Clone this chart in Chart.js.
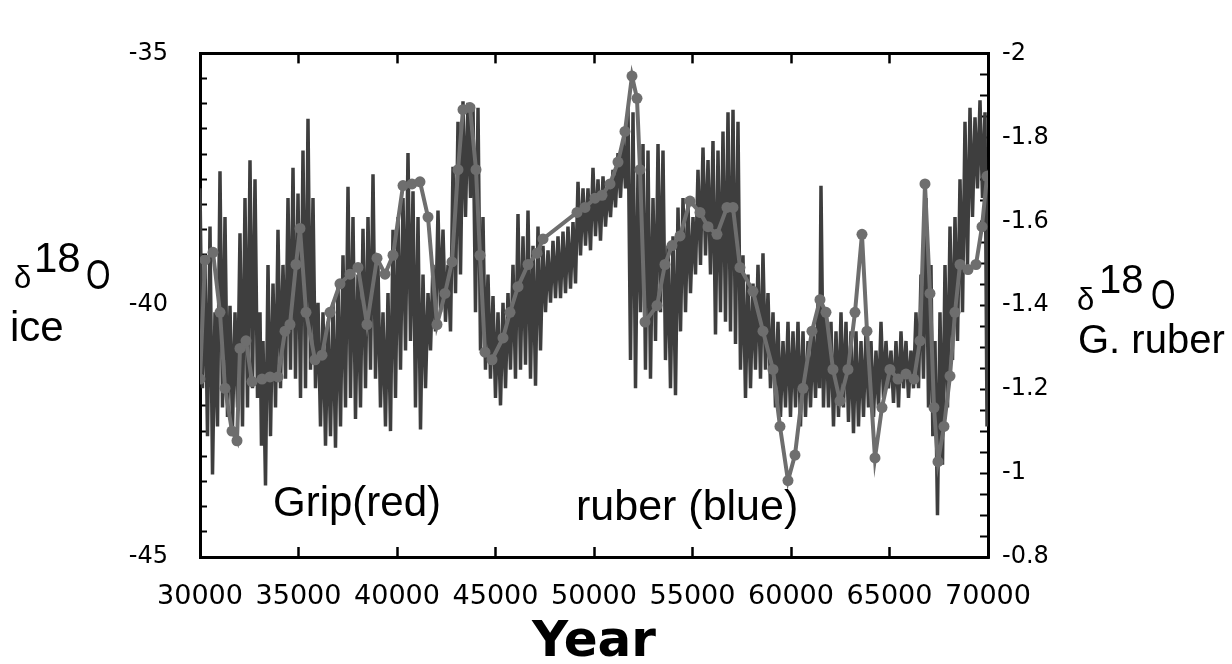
<!DOCTYPE html>
<html>
<head>
<meta charset="utf-8">
<title>Grip vs G. ruber d18O</title>
<script src="https://cdn.jsdelivr.net/npm/chart.js@4.4.1/dist/chart.umd.min.js"></script>
<style>
  html, body { margin: 0; padding: 0; background: #fff; }
  #wrap { position: relative; width: 1232px; height: 664px; overflow: hidden; }
  #myChart { position: absolute; left: 0; top: 0; }
  .lbl { position: absolute; font-family: "Liberation Sans", Arial, sans-serif; color: #000; line-height: 1; white-space: nowrap; }
  .narrow { display: inline-block; transform: scaleX(0.75); transform-origin: left top; }
</style>
</head>
<body>
<div id="wrap">
  <canvas id="myChart" width="1232" height="664"></canvas>

  <!-- left axis name: d18O ice -->
  <span class="lbl" style="left:14px;top:262px;font-size:31px">δ</span>
  <span class="lbl" style="left:34px;top:237px;font-size:42px">18</span>
  <span class="lbl narrow" style="left:86px;top:254px;font-size:42px">O</span>
  <span class="lbl" style="left:10px;top:306px;font-size:42px">ice</span>

  <!-- right axis name: d18O G. ruber -->
  <span class="lbl" style="left:1077px;top:284px;font-size:31px">δ</span>
  <span class="lbl" style="left:1099px;top:259px;font-size:40px">18</span>
  <span class="lbl narrow" style="left:1151px;top:274px;font-size:42px">O</span>
  <span class="lbl" style="left:1078px;top:319px;font-size:40px">G. ruber</span>

  <!-- in-plot notes -->
  <span class="lbl" style="left:273px;top:481px;font-size:42px">Grip(red)</span>
  <span class="lbl" style="left:576px;top:484px;font-size:43px">ruber (blue)</span>
</div>

<script>
// x axis
const yearMin = 30000;
const yearMax = 70000;
const yearStep = 5000;

// GRIP ice core d18O (left axis, permil)
const gripYear = [
  30000,30127,30254,30381,30508,30635,30761,30888,31015,31142,
  31269,31396,31523,31650,31777,31904,32030,32157,32284,32411,
  32538,32665,32792,32919,33046,33120,33198,33325,33452,33579,
  33706,33833,33959,34086,34213,34340,34467,34594,34721,34848,
  34975,35102,35228,35355,35482,35609,35736,35863,35990,36117,
  36244,36371,36497,36624,36751,36878,37005,37132,37259,37386,
  37513,37640,37766,37893,38020,38147,38274,38401,38528,38655,
  38782,38909,39035,39162,39289,39416,39543,39670,39797,39924,
  40051,40178,40305,40432,40558,40685,40812,40939,41066,41193,
  41320,41447,41574,41701,41827,41954,42081,42208,42335,42462,
  42589,42716,42843,42970,43096,43223,43350,43477,43604,43731,
  43858,43985,44112,44239,44365,44492,44619,44746,44873,45000,
  45127,45254,45381,45508,45634,45761,45888,46015,46142,46269,
  46396,46523,46650,46777,46904,47031,47157,47284,47411,47538,
  47665,47792,47919,48046,48173,48300,48426,48553,48680,48807,
  48934,49061,49188,49315,49442,49569,49695,49822,49949,50076,
  50203,50330,50457,50584,50711,50838,50964,51091,51218,51345,
  51472,51599,51726,51853,51980,52107,52233,52360,52487,52614,
  52741,52868,52995,53122,53249,53376,53502,53629,53756,53883,
  54010,54137,54264,54391,54518,54645,54771,54898,55025,55152,
  55279,55406,55533,55660,55787,55914,56040,56167,56294,56421,
  56548,56675,56802,56929,57056,57183,57309,57436,57563,57690,
  57817,57944,58071,58198,58325,58452,58578,58705,58832,58959,
  59086,59213,59340,59467,59594,59721,59847,59974,60101,60228,
  60355,60482,60609,60736,60863,60990,61117,61244,61370,61450,
  61522,61649,61776,61903,62030,62157,62284,62411,62538,62665,
  62791,62918,63045,63172,63299,63426,63553,63680,63807,63934,
  64061,64188,64314,64441,64568,64695,64822,64949,65076,65203,
  65330,65457,65583,65710,65837,65964,66091,66218,66345,66472,
  66599,66726,66853,66980,67106,67200,67309,67436,67563,67690,
  67817,67944,68071,68198,68325,68452,68579,68706,68832,68959,
  69086,69213,69340,69467,69594,69721,69848,69950,70000
];
const gripD18O = [
  -37.68,-41.65,-39.20,-42.60,-38.44,-43.36,-40.14,-42.41,-37.34,-42.03,
  -38.25,-42.22,-40.01,-42.41,-40.14,-42.03,-38.57,-42.41,-37.87,-42.03,
  -37.12,-41.65,-37.50,-41.84,-40.14,-42.79,-40.71,-43.58,-39.20,-42.60,
  -39.57,-42.03,-38.50,-41.65,-39.20,-41.46,-37.87,-41.28,-37.27,-41.46,
  -37.78,-41.84,-36.93,-41.65,-36.30,-41.28,-37.87,-41.65,-39.95,-42.41,
  -40.14,-42.79,-40.33,-42.60,-39.95,-42.83,-39.57,-42.41,-39.01,-42.03,
  -37.65,-41.84,-38.25,-42.26,-39.39,-42.03,-38.48,-41.65,-38.25,-41.28,
  -37.40,-41.46,-39.20,-42.03,-40.14,-42.41,-39.76,-42.50,-38.50,-41.84,
  -38.25,-41.28,-37.87,-40.90,-36.98,-40.71,-37.74,-42.03,-38.25,-42.47,
  -39.39,-41.65,-39.76,-40.90,-39.20,-40.52,-38.12,-40.14,-38.50,-40.33,
  -39.20,-40.52,-37.25,-39.76,-36.36,-39.39,-35.95,-38.25,-35.98,-37.87,
  -36.02,-40.14,-36.08,-40.90,-38.25,-41.28,-39.39,-41.46,-39.82,-41.84,
  -40.14,-41.99,-39.95,-41.65,-39.76,-41.28,-39.20,-41.46,-38.19,-41.28,
  -38.63,-41.18,-38.12,-41.46,-38.82,-41.60,-38.44,-40.90,-38.82,-40.14,
  -38.91,-39.95,-38.72,-39.86,-38.63,-39.86,-38.54,-39.76,-38.44,-39.67,
  -38.35,-39.57,-37.55,-39.01,-37.68,-38.82,-37.68,-38.91,-37.27,-38.63,
  -37.50,-38.72,-37.44,-38.44,-37.59,-38.25,-37.31,-38.06,-36.98,-37.87,
  -36.74,-37.68,-36.08,-41.09,-36.17,-41.65,-37.31,-40.14,-36.80,-41.28,
  -36.93,-41.46,-37.87,-40.71,-36.80,-40.14,-36.93,-41.09,-38.82,-41.65,
  -38.63,-41.79,-38.06,-40.52,-37.87,-40.14,-38.01,-39.76,-38.25,-39.39,
  -37.31,-39.20,-36.87,-39.01,-37.12,-39.39,-36.74,-40.58,-36.93,-40.14,
  -36.55,-40.33,-36.17,-40.52,-36.12,-40.77,-36.36,-41.28,-39.01,-41.84,
  -39.39,-41.65,-39.57,-41.28,-39.20,-41.46,-38.97,-41.28,-39.76,-41.65,
  -40.14,-42.03,-40.33,-42.22,-40.71,-42.03,-40.33,-42.22,-40.52,-42.03,
  -40.33,-42.41,-40.52,-42.22,-40.71,-42.03,-40.52,-41.84,-39.95,-41.65,
  -37.63,-42.03,-40.14,-42.03,-40.33,-42.41,-40.52,-42.22,-40.14,-42.03,
  -40.33,-42.32,-40.52,-42.54,-40.52,-42.41,-40.71,-42.22,-40.52,-42.03,
  -40.71,-42.22,-40.90,-42.03,-40.33,-41.84,-40.71,-41.65,-40.90,-41.94,
  -40.71,-42.03,-40.52,-41.65,-40.71,-41.84,-40.90,-41.65,-40.14,-41.65,
  -39.39,-41.46,-37.87,-42.03,-39.20,-42.60,-40.71,-44.17,-40.14,-43.17,
  -39.20,-42.03,-38.44,-41.09,-38.25,-40.71,-37.50,-40.14,-36.36,-39.20,
  -36.08,-38.25,-36.27,-37.68,-35.93,-37.87,-36.17,-42.41,-37.31
];

// G. ruber d18O (right axis, reversed)
const ruberYear = [
  30000,30254,30660,31015,31269,31624,31878,32030,32335,32640,
  33147,33553,33959,34315,34568,34873,35076,35381,35837,36193,
  36599,37106,37614,38020,38477,38985,39391,39797,40305,40761,
  41167,41574,42030,42436,42792,43096,43350,43706,44010,44213,
  44467,44822,45381,45736,46142,46650,47107,47411,49137,49543,
  50051,50406,50812,51218,51573,51928,52182,52334,52588,53197,
  53603,53959,54365,54872,55380,55786,56243,56751,57055,57410,
  58070,58578,59086,59441,59847,60202,60608,61065,61471,61776,
  62131,62486,62892,63248,63603,63857,64263,64618,65024,65430,
  65837,66243,66547,66801,67055,67258,67461,67766,68071,68325,
  68579,68985,69391,69695,69949
];
const ruberD18O = [
  -1.224,-1.508,-1.526,-1.383,-1.202,-1.100,-1.077,-1.297,-1.315,-1.218,
  -1.224,-1.229,-1.229,-1.338,-1.354,-1.497,-1.583,-1.383,-1.270,-1.281,
  -1.383,-1.451,-1.474,-1.490,-1.354,-1.512,-1.474,-1.519,-1.685,-1.689,
  -1.694,-1.610,-1.354,-1.428,-1.503,-1.723,-1.866,-1.871,-1.723,-1.519,
  -1.288,-1.270,-1.322,-1.383,-1.444,-1.497,-1.524,-1.558,-1.621,-1.633,
  -1.655,-1.662,-1.689,-1.741,-1.814,-1.946,-1.893,-1.723,-1.360,-1.399,
  -1.497,-1.542,-1.565,-1.648,-1.621,-1.587,-1.569,-1.633,-1.633,-1.490,
  -1.433,-1.338,-1.247,-1.111,-0.982,-1.043,-1.202,-1.338,-1.413,-1.383,
  -1.247,-1.172,-1.247,-1.383,-1.569,-1.338,-1.036,-1.156,-1.247,-1.224,
  -1.236,-1.224,-1.315,-1.689,-1.428,-1.156,-1.027,-1.111,-1.231,-1.383,
  -1.497,-1.485,-1.497,-1.587,-1.707
];

const gripPoints = gripYear.map((yr, i) => ({ x: yr, y: gripD18O[i] }));
const ruberPoints = ruberYear.map((yr, i) => ({ x: yr, y: ruberD18O[i] }));

const tickFont = { family: "DejaVu Sans", size: 24 };

const config = {
  type: "line",
  data: {
    datasets: [
      {
        label: "ruber (blue)",
        data: ruberPoints,
        xAxisID: "x",
        yAxisID: "yRuber",
        borderColor: "#6e6e6e",
        backgroundColor: "#6e6e6e",
        borderWidth: 4,
        pointRadius: 5.5,
        pointBorderWidth: 0,
        tension: 0,
      },
      {
        label: "Grip(red)",
        data: gripPoints,
        xAxisID: "x",
        yAxisID: "yIce",
        borderColor: "#3e3e3e",
        borderWidth: 3.5,
        pointRadius: 0,
        tension: 0,
      },
    ],
  },
  options: {
    responsive: false,
    animation: false,
    events: [],
    layout: { padding: 0 },
    plugins: {
      legend: { display: false },
      tooltip: { enabled: false },
    },
    scales: {
      x: {
        type: "linear",
        position: "bottom",
        min: yearMin,
        max: yearMax,
        afterFit: (scale) => { scale.height = 107; },
        ticks: {
          stepSize: yearStep,
          maxTicksLimit: 9,
          autoSkip: false,
          maxRotation: 0,
          padding: 34,
          color: "#000",
          font: { family: "DejaVu Sans", size: 27 },
          callback: (v) => String(v),
        },
        grid: { drawOnChartArea: false, tickLength: -10, tickWidth: 2.5, tickColor: "#000" },
        border: { color: "#000", width: 3 },
        title: {
          display: true,
          text: "Year",
          color: "#000",
          font: { family: "DejaVu Sans", size: 50, weight: "bold", lineHeight: 1 },
          padding: { top: 0, bottom: -4 },
        },
      },
      xTop: {
        type: "linear",
        axis: "x",
        position: "top",
        min: yearMin,
        max: yearMax,
        afterFit: (scale) => { scale.height = 28; },
        ticks: { display: false, stepSize: yearStep, maxTicksLimit: 9 },
        grid: { drawOnChartArea: false, tickLength: -10, tickWidth: 2.5, tickColor: "#000" },
        border: { color: "#000", width: 3 },
      },
      yIce: {
        type: "linear",
        position: "left",
        min: -45,
        max: -35,
        afterFit: (scale) => { scale.width = 200; },
        ticks: {
          stepSize: 0.5,
          maxTicksLimit: 21,
          autoSkip: false,
          padding: 39,
          color: "#000",
          font: tickFont,
          callback: (v) => (Math.abs(v / 5 - Math.round(v / 5)) < 1e-6 ? String(Math.round(v)) : ""),
        },
        grid: { drawOnChartArea: false, tickLength: -7, tickWidth: 2, tickColor: "#000" },
        border: { color: "#000", width: 3 },
      },
      yRuber: {
        type: "linear",
        position: "right",
        reverse: true,
        min: -2,
        max: -0.8,
        afterFit: (scale) => { scale.width = 244; },
        ticks: {
          stepSize: 0.05,
          maxTicksLimit: 25,
          autoSkip: false,
          padding: 22,
          color: "#000",
          font: tickFont,
          callback: (v) => (Math.abs(v * 5 - Math.round(v * 5)) < 1e-6 ? String(Math.round(v * 10) / 10) : ""),
        },
        grid: { drawOnChartArea: false, tickLength: -8, tickWidth: 2, tickColor: "#000" },
        border: { color: "#000", width: 3 },
      },
    },
  },
};

const ctx = document.getElementById("myChart").getContext("2d");
const myChart = new Chart(ctx, config);
</script>
</body>
</html>
